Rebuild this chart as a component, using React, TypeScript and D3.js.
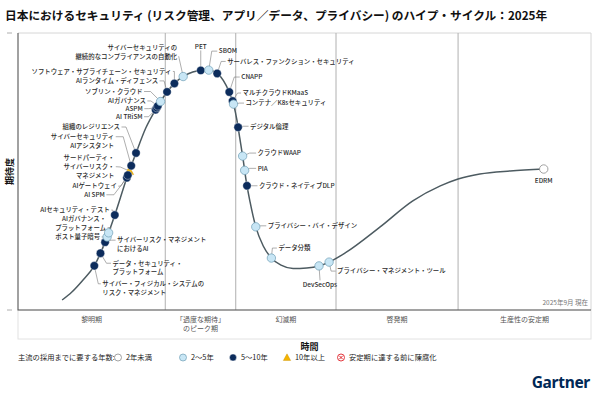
import React, { useRef, useEffect } from 'react';
import * as d3 from 'd3';

const TITLE = '日本におけるセキュリティ (リスク管理、アプリ／データ、プライバシー) のハイプ・サイクル：2025年';
const FONT = '"Noto Sans CJK JP", "Noto Sans", sans-serif';

// hype curve, time (0-100) vs expectation (0-100)
const CURVE_TIME = [7.7, 9.4, 11.2, 13.3, 15.2, 16.9, 19.0, 20.6, 22.3, 24.3, 26.0, 27.4, 29.0, 30.5, 31.9, 33.2, 34.4, 35.4, 36.3, 37.0, 37.7, 38.2, 38.7, 39.3, 39.8, 40.5, 41.5, 42.8, 44.2, 45.9, 48.0, 50.4, 52.5, 54.3, 57.1, 63.2, 68.9, 73.7, 76.8, 80.6, 85.9, 91.8];
const CURVE_EXPECT = [3.6, 6.5, 10.5, 15.9, 24.5, 34.3, 47.7, 56.7, 65.7, 73.3, 78.7, 82.0, 84.5, 85.9, 86.5, 86.6, 85.9, 84.1, 81.2, 78.0, 73.6, 68.6, 62.1, 54.2, 46.9, 39.0, 30.0, 23.1, 18.8, 16.2, 15.0, 15.2, 15.9, 17.3, 20.6, 30.0, 39.4, 44.8, 47.3, 49.1, 50.2, 50.9];

const PHASE_BOUNDS = [0, 25.7, 38.0, 55.5, 76.8, 100];
const PHASE_LABELS = ['黎明期', '「過度な期待」\nのピーク期', '幻滅期', '啓発期', '生産性の安定期'];

const TECH_NAMES = [
  'サイバー・フィジカル・システムの\nリスク・マネジメント',
  'データ・セキュリティ・\nプラットフォーム',
  'サイバーリスク・マネジメント\nにおけるAI',
  'ポスト量子暗号',
  'AIガバナンス・\nプラットフォーム',
  'AIセキュリティ・テスト',
  'AI SPM',
  'AIゲートウェイ',
  'サードパーティ・\nサイバーリスク・\nマネジメント',
  'サイバーセキュリティ\nAIアシスタント',
  '組織のレジリエンス',
  'AI TRiSM',
  'ASPM',
  'AIガバナンス',
  'ソブリン・クラウド',
  'AIランタイム・ディフェンス',
  'ソフトウェア・サプライチェーン・セキュリティ',
  'サイバーセキュリティの\n継続的なコンプライアンスの自動化',
  'PET',
  'SBOM',
  'サーバレス・ファンクション・セキュリティ',
  'CNAPP',
  'マルチクラウドKMaaS',
  'コンテナ／K8sセキュリティ',
  'デジタル倫理',
  'クラウドWAAP',
  'PIA',
  'クラウド・ネイティブDLP',
  'プライバシー・バイ・デザイン',
  'データ分類',
  'DevSecOps',
  'プライバシー・マネジメント・ツール',
  'EDRM',
];
const TECH_TIME = [13.3, 14.3, 15.2, 15.5, 15.8, 16.9, 19.0, 19.2, 19.5, 19.9, 20.6, 24.1, 24.3, 24.4, 25.0, 26.0, 27.2, 28.8, 31.9, 33.3, 34.7, 36.8, 37.5, 37.7, 38.6, 39.1, 39.6, 40.0, 41.5, 44.2, 52.5, 54.3, 91.8];
const TECH_EXPECT = [15.9, 20.6, 24.5, 26.4, 27.8, 34.3, 47.7, 48.7, 50.2, 52.0, 56.7, 72.2, 72.9, 73.6, 75.1, 78.7, 81.9, 84.5, 86.3, 86.3, 85.2, 78.7, 75.5, 74.4, 66.1, 55.6, 50.5, 44.8, 30.0, 18.8, 15.9, 17.3, 50.9];
const TECH_YEARS = ['5-10', '5-10', '5-10', '2-5', '2-5', '5-10', '5-10', '5-10', '10+', '5-10', '5-10', '5-10', '5-10', '5-10', '2-5', '5-10', '5-10', '2-5', '5-10', '2-5', '5-10', '5-10', '5-10', '2-5', '5-10', '2-5', '2-5', '5-10', '2-5', '2-5', '2-5', '2-5', '<2'];

const LEGEND_TITLE = '主流の採用までに要する年数:';
const LEGEND_KEYS = ['<2', '2-5', '5-10', '10+', 'obsolete'];
const LEGEND_LABELS = ['2年未満', '2～5年', '5～10年', '10年以上', '安定期に達する前に陳腐化'];

// label layout relative to dot: [dx, dy, anchor, elbowDx, elbowDy, leaderLine]
type Layout = [number, number, string, number, number, number];
const LABEL_LAYOUT: Layout[] = [
  [8, 18, 'start', 4, 18, 0],
  [12, 10, 'start', 6, 10, 0],
  [12, -2, 'start', 6, -2, 0],
  [-7, 0, 'end', -5, 0, 0],
  [-2.5, -14, 'end', 2.5, -5, 1],
  [-5, -5, 'end', -2, -5, 0],
  [-22, 17, 'end', -13, 17, 0],
  [-11, 11, 'end', -7, 11, 0],
  [-15, -13, 'end', -9, -4, 1],
  [-17, -29, 'end', -8, -29, 0],
  [-16, -26, 'end', -10, -26, 0],
  [-13, 7, 'end', -7, 7, 0],
  [-14, 1, 'end', -8, 1, 0],
  [-12, -5, 'end', -7, -5, 0],
  [-18, -10, 'end', -10, -10, 0],
  [-9, -11, 'end', -3, -11, 0],
  [-3, -12, 'end', 0, -12, 0],
  [-6, -29, 'end', -4, -18, 1],
  [0, -24, 'middle', 0, -20, 0],
  [10, -19, 'start', 3, -19, 0],
  [10, -12, 'start', 4, -12, 0],
  [12, -15, 'start', 5, -15, 0],
  [10, -8, 'start', 5, -8, 0],
  [12, -1, 'start', 6, -1, 0],
  [12, -1, 'start', 5, -1, 0],
  [15, -3, 'start', 7, -3, 0],
  [13, -2, 'start', 5, -2, 0],
  [12, 0, 'start', 5, 0, 0],
  [12, -1, 'start', 5, -1, 0],
  [7, -10, 'start', 1, -10, 0],
  [1, 19, 'middle', 1, 14, 0],
  [8, 9, 'start', 2, 9, 0],
  [0, 12, 'none', 0, 0, 0],
];

const W = 600;
const H = 395;
const margin = { top: 33, right: 9, bottom: 85, left: 18 };
const LABEL_SIZE = 6.4;
const LINE_H = 8.7;

const DARK = '#0c2c5c';
const LIGHT = '#c8e6f5';

function drawMarker(g: d3.Selection<SVGGElement, unknown, null, undefined>, key: string, x: number, y: number, r: number) {
  if (key === '10+') {
    const s = r * 1.9;
    g.append('path')
      .attr('d', `M${x},${y - s * 0.55}L${x + s * 0.55},${y + s * 0.45}L${x - s * 0.55},${y + s * 0.45}Z`)
      .attr('fill', '#f4b400')
      .attr('stroke', '#c98f00')
      .attr('stroke-width', 0.4);
    return;
  }
  const c = g.append('circle').attr('cx', x).attr('cy', y).attr('r', r);
  if (key === '<2') c.attr('fill', '#fff').attr('stroke', '#8a8a8a').attr('stroke-width', 0.8);
  else if (key === '2-5') c.attr('fill', LIGHT).attr('stroke', '#6f9db5').attr('stroke-width', 0.7);
  else if (key === '5-10') c.attr('fill', DARK).attr('stroke', '#fff').attr('stroke-width', 0.4);
  else {
    c.attr('fill', '#fff').attr('stroke', '#e0242b').attr('stroke-width', 0.9);
    const d = r * 0.5;
    g.append('path')
      .attr('d', `M${x - d},${y - d}L${x + d},${y + d}M${x + d},${y - d}L${x - d},${y + d}`)
      .attr('stroke', '#e0242b')
      .attr('stroke-width', 1);
  }
}

export default function App() {
  const svgRef = useRef<SVGSVGElement>(null);

  useEffect(() => {
    if (!svgRef.current) return;
    const svg = d3.select(svgRef.current);
    svg.selectAll('*').remove();

    const x0 = margin.left;
    const x1 = W - margin.right;
    const y0 = margin.top;
    const y1 = H - margin.bottom;

    const xScale = d3.scaleLinear().domain([0, 100]).range([x0, x1]);
    const yScale = d3.scaleLinear().domain([0, 100]).range([y1, y0]);

    svg.append('rect').attr('width', W).attr('height', H).attr('fill', '#fff');

    // title
    svg.append('text')
      .attr('x', 5)
      .attr('y', 20)
      .attr('font-family', FONT)
      .attr('font-size', 11.7)
      .attr('font-weight', 700)
      .attr('fill', '#111')
      .text(TITLE);

    // phase band below the axis
    svg.append('rect')
      .attr('x', x0).attr('y', y1)
      .attr('width', x1 - x0).attr('height', 29)
      .attr('fill', '#fff')
      .attr('stroke', '#e2e2e2')
      .attr('stroke-width', 1);

    // frame
    svg.append('path')
      .attr('d', `M${x0},${y0}H${x1}V${y1}`)
      .attr('fill', 'none')
      .attr('stroke', '#d6d6d6')
      .attr('stroke-width', 1);

    // phase dividers
    PHASE_BOUNDS.slice(1, -1).forEach(b => {
      svg.append('line')
        .attr('x1', xScale(b)).attr('x2', xScale(b))
        .attr('y1', y0).attr('y2', y1)
        .attr('stroke', '#b0b0b0')
        .attr('stroke-width', 1);
    });

    // axes
    svg.append('path')
      .attr('d', `M${x0},${y0}V${y1}H${x1}`)
      .attr('fill', 'none')
      .attr('stroke', '#555')
      .attr('stroke-width', 1.1);
    [y0, y1].forEach(yy => {
      svg.append('line')
        .attr('x1', 7).attr('x2', 12).attr('y1', yy).attr('y2', yy)
        .attr('stroke', '#999').attr('stroke-width', 0.8);
    });

    // phase labels
    PHASE_LABELS.forEach((lab, i) => {
      const cx = (xScale(PHASE_BOUNDS[i]) + xScale(PHASE_BOUNDS[i + 1])) / 2;
      const t = svg.append('text')
        .attr('text-anchor', 'middle')
        .attr('font-family', FONT)
        .attr('font-size', 7)
        .attr('fill', '#555');
      lab.split('\n').forEach((ln, j) => {
        t.append('tspan').attr('x', cx).attr('y', y1 + 11.5 + j * 9).text(ln);
      });
    });

    svg.append('text')
      .attr('x', x1 - 3).attr('y', y1 - 5)
      .attr('text-anchor', 'end')
      .attr('font-family', FONT)
      .attr('font-size', 6.5)
      .attr('fill', '#777')
      .text('2025年9月 現在');

    // axis titles
    svg.append('text')
      .attr('transform', `translate(13,${(y0 + y1) / 2}) rotate(-90)`)
      .attr('text-anchor', 'middle')
      .attr('font-family', FONT)
      .attr('font-size', 9)
      .attr('font-weight', 700)
      .attr('fill', '#111')
      .text('期待度');
    svg.append('text')
      .attr('x', (x0 + x1) / 2 + 5).attr('y', y1 + 39.5)
      .attr('text-anchor', 'middle')
      .attr('font-family', FONT)
      .attr('font-size', 9)
      .attr('font-weight', 700)
      .attr('fill', '#111')
      .text('時間');

    // curve
    const line = d3.line<number>()
      .x(i => xScale(CURVE_TIME[i]))
      .y(i => yScale(CURVE_EXPECT[i]))
      .curve(d3.curveMonotoneX);
    const curve = svg.append('path')
      .attr('d', line(d3.range(CURVE_TIME.length)))
      .attr('fill', 'none')
      .attr('stroke', '#4d5b61')
      .attr('stroke-width', 1.5);

    const node = curve.node() as SVGPathElement;
    const total = node.getTotalLength();
    const samples = d3.range(0, total, 0.4).map(l => node.getPointAtLength(l));
    const snap = (px: number, py: number) => {
      let best = samples[0];
      let bd = Infinity;
      for (const s of samples) {
        const d = (s.x - px) ** 2 + (s.y - py) ** 2;
        if (d < bd) { bd = d; best = s; }
      }
      return [best.x, best.y];
    };

    const pts = TECH_NAMES.map((_, i) => snap(xScale(TECH_TIME[i]), yScale(TECH_EXPECT[i])));

    // leaders
    const leaders = svg.append('g');
    const labels = svg.append('g')
      .attr('font-family', FONT)
      .attr('font-size', LABEL_SIZE)
      .attr('font-weight', 500)
      .attr('fill', '#2b2b2b');

    TECH_NAMES.forEach((name, i) => {
      const [px, py] = pts[i];
      const [dx, dy, anchor, ex, ey, li] = LABEL_LAYOUT[i];
      const tx = px + dx;
      const ty = py + dy;
      const lines = name.split('\n');
      const t = labels.append('text').attr('text-anchor', anchor === 'none' ? 'middle' : anchor);
      lines.forEach((ln, j) => {
        t.append('tspan').attr('x', tx).attr('y', ty + j * LINE_H + LABEL_SIZE * 0.36).text(ln);
      });
      if (anchor === 'none') return;
      let sx = tx;
      let sy = ty + li * LINE_H;
      if (anchor === 'end') sx = tx + 1.5;
      else if (anchor === 'start') sx = tx - 1.5;
      else sy = ty + (dy < 0 ? 4 : -4.5);
      leaders.append('polyline')
        .attr('points', [[sx, sy], [px + ex, py + ey], [px, py]].map(p => p.join(',')).join(' '))
        .attr('fill', 'none')
        .attr('stroke', '#777')
        .attr('stroke-width', 0.6);
    });

    // markers: triangles first so circles sit on top
    const marks = svg.append('g');
    const order = d3.range(TECH_NAMES.length).sort((a, b) => (TECH_YEARS[a] === '10+' ? -1 : 0) - (TECH_YEARS[b] === '10+' ? -1 : 0));
    order.forEach(i => drawMarker(marks, TECH_YEARS[i], pts[i][0], pts[i][1], 4.2));

    // legend
    const legY = 357.5;
    const legend = svg.append('g')
      .attr('font-family', FONT)
      .attr('font-size', 7.3)
      .attr('fill', '#222');
    legend.append('text').attr('x', 18).attr('y', legY + 2.6).text(LEGEND_TITLE);
    const LEGEND_X = [118, 183, 233, 287, 341];
    LEGEND_KEYS.forEach((k, i) => {
      drawMarker(legend, k, LEGEND_X[i], legY, 3.5);
      legend.append('text').attr('x', LEGEND_X[i] + 8).attr('y', legY + 2.6).text(LEGEND_LABELS[i]);
    });

    // logo
    svg.append('text')
      .attr('x', 590).attr('y', 388)
      .attr('text-anchor', 'end')
      .attr('font-family', '"Noto Sans", sans-serif')
      .attr('font-size', 15.5)
      .attr('font-weight', 700)
      .attr('fill', '#002856')
      .attr('letter-spacing', -0.3)
      .text('Gartner');
  }, []);

  return (
    <svg
      ref={svgRef}
      width={W}
      height={H}
      style={{ position: 'absolute', left: 0, top: 0, display: 'block' }}
    />
  );
}
